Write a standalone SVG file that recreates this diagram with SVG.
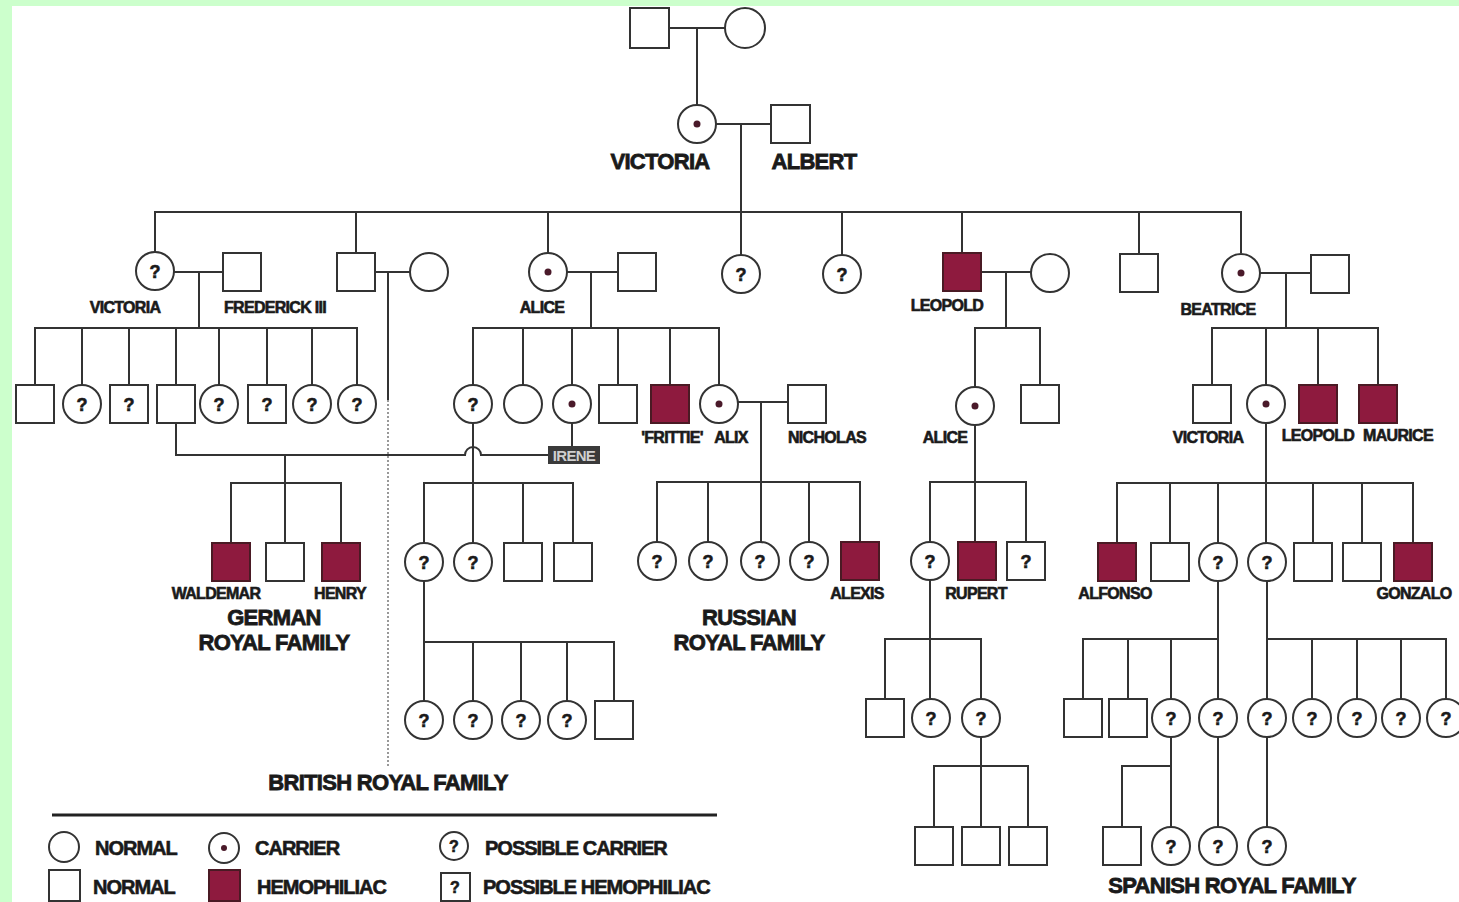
<svg xmlns="http://www.w3.org/2000/svg" xmlns:xlink="http://www.w3.org/1999/xlink" width="1459" height="902" viewBox="0 0 1459 902">
<style>
.ln{stroke:#333;stroke-width:2;fill:none}
.dt{stroke:#555;stroke-width:1.2;fill:none;stroke-dasharray:2 2}
.bx{fill:#fff;stroke:#333;stroke-width:2}
.hm{fill:#8e1a3e;stroke:#4a1a24;stroke-width:2}
.dot{fill:#4a1a2a}
.q{font-family:"Liberation Sans",Arial,sans-serif;font-weight:bold;font-size:18px;text-anchor:middle;fill:#1a1a1a;stroke:#1a1a1a;stroke-width:0.6}
.sl{font-family:"Liberation Sans",Arial,sans-serif;font-weight:bold;font-size:16px;letter-spacing:-0.7px;text-anchor:middle;fill:#1a1a1a;stroke:#1a1a1a;stroke-width:0.6}
.bl{font-family:"Liberation Sans",Arial,sans-serif;font-weight:bold;font-size:22px;letter-spacing:-0.7px;text-anchor:middle;fill:#1a1a1a;stroke:#1a1a1a;stroke-width:0.8}
.lg{font-family:"Liberation Sans",Arial,sans-serif;font-weight:bold;font-size:20px;letter-spacing:-1px;fill:#1a1a1a;stroke:#1a1a1a;stroke-width:0.6}
</style>
<defs>
<g id="sq"><rect x="-19" y="-19" width="38" height="38" class="bx"/></g>
<g id="hs"><rect x="-19" y="-19" width="38" height="38" class="hm"/></g>
<g id="ci"><circle r="19" class="bx"/></g>
<g id="cc"><circle r="19" class="bx"/><circle r="3.5" class="dot"/></g>
<g id="qc"><circle r="19" class="bx"/><text y="6.5" class="q">?</text></g>
<g id="qs"><rect x="-19" y="-19" width="38" height="38" class="bx"/><text y="6.5" class="q">?</text></g>
</defs>
<rect x="0" y="0" width="1459" height="902" fill="#fff"/>
<rect x="0" y="0" width="1459" height="6" fill="#ccffcc"/>
<rect x="0" y="0" width="12" height="902" fill="#ccffcc"/>

<g id="connectors">
<path class="ln" d="M669 28H725M697 28V105"/>
<path class="ln" d="M716 124H771M741 124V255"/>
<path class="ln" d="M155 252V212H1241V253M356 212V253M548 212V253M842 212V255M962 212V253M1139 212V254"/>
<path class="ln" d="M173 272H223M199 272V328M35 385V328H357V385M82 328V385M129 328V385M176 328V385M219 328V385M267 328V385M312 328V385"/>
<path class="ln" d="M375 272H410M388 272V400"/>
<path class="dt" d="M388 400V766"/>
<path class="ln" d="M567 272H618M591 272V328M473 385V328H719V385M523 328V385M572 328V385M618 328V385M670 328V385"/>
<path class="ln" d="M176 423V455H465A8 8 0 0 1 481 455H548M572 423V446"/>
<path class="ln" d="M285 455V483M231 543V483H341V543M285 483V543"/>
<path class="ln" d="M473 423V543M424 543V483H573V543M523 483V543"/>
<path class="ln" d="M424 581V642H614V700M424 642V700M473 642V700M521 642V700M567 642V700"/>
<path class="ln" d="M738 402H788M761 402V542M657 542V482H860V542M708 482V542M809 482V542"/>
<path class="ln" d="M982 272H1031M1006 272V328M975 387V328H1040V385"/>
<path class="ln" d="M975 425V542M930 542V482H1026V542"/>
<path class="ln" d="M930 580V699M885 699V639H981V699"/>
<path class="ln" d="M981 737V827M934 827V766H1028V827"/>
<path class="ln" d="M1260 273H1311M1286 273V328M1212 385V328H1378V385M1266 328V385M1318 328V385"/>
<path class="ln" d="M1266 423V543M1117 543V483H1413V543M1170 483V543M1218 483V543M1313 483V543M1362 483V543"/>
<path class="ln" d="M1218 581V699M1083 699V639H1218M1128 639V699M1171 639V699"/>
<path class="ln" d="M1267 581V699M1267 639H1446V699M1312 639V699M1357 639V699M1401 639V699"/>
<path class="ln" d="M1171 737V827M1171 766H1122V827M1218 737V827M1267 737V827"/>
</g>

<g id="g0-father"><rect x="630" y="8" width="39" height="40" class="bx"/></g>
<g id="g0-mother"><circle cx="745" cy="28" r="20" class="bx"/></g>

<g id="victoria"><use href="#cc" x="697" y="124"/><text x="660" y="169" class="bl">VICTORIA</text></g>
<g id="albert"><rect x="771" y="105" width="39" height="38" class="bx"/><text x="814" y="169" class="bl">ALBERT</text></g>

<g id="victoria-pr"><use href="#qc" x="155" y="271"/><text x="125" y="313" class="sl">VICTORIA</text></g>
<g id="frederick"><use href="#sq" x="242" y="272"/><text x="275" y="313" class="sl">FREDERICK III</text></g>
<g id="edward"><use href="#sq" x="356" y="272"/></g>
<g id="edward-wife"><use href="#ci" x="429" y="272"/></g>
<g id="alice"><use href="#cc" x="548" y="272"/><text x="542" y="313" class="sl">ALICE</text></g>
<g id="alice-husband"><use href="#sq" x="637" y="272"/></g>
<g id="g2-q1"><use href="#qc" x="741" y="274"/></g>
<g id="g2-q2"><use href="#qc" x="842" y="274"/></g>
<g id="leopold"><use href="#hs" x="962" y="272"/><text x="947" y="311" class="sl">LEOPOLD</text></g>
<g id="leopold-wife"><use href="#ci" x="1050" y="273"/></g>
<g id="g2-son"><use href="#sq" x="1139" y="273"/></g>
<g id="beatrice"><use href="#cc" x="1241" y="273"/><text x="1218" y="315" class="sl">BEATRICE</text></g>
<g id="beatrice-husband"><use href="#sq" x="1330" y="274"/></g>

<g id="vc1"><use href="#sq" x="35" y="404"/></g>
<g id="vc2"><use href="#qc" x="82" y="404"/></g>
<g id="vc3"><use href="#qs" x="129" y="404"/></g>
<g id="vc4"><use href="#sq" x="176" y="404"/></g>
<g id="vc5"><use href="#qc" x="219" y="404"/></g>
<g id="vc6"><use href="#qs" x="267" y="404"/></g>
<g id="vc7"><use href="#qc" x="312" y="404"/></g>
<g id="vc8"><use href="#qc" x="357" y="404"/></g>

<g id="ac1"><use href="#qc" x="473" y="404"/></g>
<g id="ac2"><use href="#ci" x="523" y="404"/></g>
<g id="irene"><use href="#cc" x="572" y="404"/><rect x="548" y="446" width="52" height="18" fill="#3a3a3a"/><text x="574" y="461" class="sl" style="fill:#cfcfcf;stroke:none;font-size:15px">IRENE</text></g>
<g id="ac4"><use href="#sq" x="618" y="404"/></g>
<g id="frittie"><use href="#hs" x="670" y="404"/><text x="672" y="443" class="sl">'FRITTIE'</text></g>
<g id="alix"><use href="#cc" x="719" y="404"/><text x="731" y="443" class="sl">ALIX</text></g>
<g id="nicholas"><use href="#sq" x="807" y="404"/><text x="827" y="443" class="sl">NICHOLAS</text></g>

<g id="alice-l"><use href="#cc" x="975" y="406"/><text x="945" y="443" class="sl">ALICE</text></g>
<g id="lc2"><use href="#sq" x="1040" y="404"/></g>

<g id="victoria-b"><use href="#sq" x="1212" y="404"/><text x="1208" y="443" class="sl">VICTORIA</text></g>
<g id="bc2"><use href="#cc" x="1266" y="404"/></g>
<g id="leopold-b"><use href="#hs" x="1318" y="404"/><text x="1318" y="441" class="sl">LEOPOLD</text></g>
<g id="maurice"><use href="#hs" x="1378" y="404"/><text x="1398" y="441" class="sl">MAURICE</text></g>

<g id="waldemar"><use href="#hs" x="231" y="562"/><text x="216" y="599" class="sl">WALDEMAR</text></g>
<g id="gc2"><use href="#sq" x="285" y="562"/></g>
<g id="henry"><use href="#hs" x="341" y="562"/><text x="340" y="599" class="sl">HENRY</text></g>
<g id="german-label"><text x="274" y="625" class="bl">GERMAN</text><text x="274" y="650" class="bl">ROYAL FAMILY</text></g>

<g id="bt1"><use href="#qc" x="424" y="562"/></g>
<g id="bt2"><use href="#qc" x="473" y="562"/></g>
<g id="bt3"><use href="#sq" x="523" y="562"/></g>
<g id="bt4"><use href="#sq" x="573" y="562"/></g>
<g id="bu1"><use href="#qc" x="424" y="720"/></g>
<g id="bu2"><use href="#qc" x="473" y="720"/></g>
<g id="bu3"><use href="#qc" x="521" y="720"/></g>
<g id="bu4"><use href="#qc" x="567" y="720"/></g>
<g id="bu5"><use href="#sq" x="614" y="720"/></g>
<g id="british-label"><text x="388" y="790" class="bl">BRITISH ROYAL FAMILY</text></g>

<g id="ru1"><use href="#qc" x="657" y="561"/></g>
<g id="ru2"><use href="#qc" x="708" y="561"/></g>
<g id="ru3"><use href="#qc" x="760" y="561"/></g>
<g id="ru4"><use href="#qc" x="809" y="561"/></g>
<g id="alexis"><use href="#hs" x="860" y="561"/><text x="857" y="599" class="sl">ALEXIS</text></g>
<g id="russian-label"><text x="749" y="625" class="bl">RUSSIAN</text><text x="749" y="650" class="bl">ROYAL FAMILY</text></g>

<g id="la1"><use href="#qc" x="930" y="561"/></g>
<g id="rupert"><use href="#hs" x="977" y="561"/><text x="976" y="599" class="sl">RUPERT</text></g>
<g id="la3"><use href="#qs" x="1026" y="561"/></g>
<g id="lb1"><use href="#sq" x="885" y="718"/></g>
<g id="lb2"><use href="#qc" x="931" y="718"/></g>
<g id="lb3"><use href="#qc" x="981" y="718"/></g>
<g id="lc1b"><use href="#sq" x="934" y="846"/></g>
<g id="lc2b"><use href="#sq" x="981" y="846"/></g>
<g id="lc3b"><use href="#sq" x="1028" y="846"/></g>

<g id="alfonso"><use href="#hs" x="1117" y="562"/><text x="1115" y="599" class="sl">ALFONSO</text></g>
<g id="sp2"><use href="#sq" x="1170" y="562"/></g>
<g id="sp3"><use href="#qc" x="1218" y="562"/></g>
<g id="sp4"><use href="#qc" x="1267" y="562"/></g>
<g id="sp5"><use href="#sq" x="1313" y="562"/></g>
<g id="sp6"><use href="#sq" x="1362" y="562"/></g>
<g id="gonzalo"><use href="#hs" x="1413" y="562"/><text x="1414" y="599" class="sl">GONZALO</text></g>
<g id="sq1"><use href="#sq" x="1083" y="718"/></g>
<g id="sq2"><use href="#sq" x="1128" y="718"/></g>
<g id="sq3"><use href="#qc" x="1171" y="718"/></g>
<g id="sq4"><use href="#qc" x="1218" y="718"/></g>
<g id="sq5"><use href="#qc" x="1267" y="718"/></g>
<g id="sq6"><use href="#qc" x="1312" y="718"/></g>
<g id="sq7"><use href="#qc" x="1357" y="718"/></g>
<g id="sq8"><use href="#qc" x="1401" y="718"/></g>
<g id="sq9"><use href="#qc" x="1446" y="718"/></g>
<g id="sr1"><use href="#sq" x="1122" y="846"/></g>
<g id="sr2"><use href="#qc" x="1171" y="846"/></g>
<g id="sr3"><use href="#qc" x="1218" y="846"/></g>
<g id="sr4"><use href="#qc" x="1267" y="846"/></g>
<g id="spanish-label"><text x="1232" y="893" class="bl">SPANISH ROYAL FAMILY</text></g>

<g id="legend">
<line x1="52" y1="815" x2="717" y2="815" stroke="#222" stroke-width="3"/>
<circle cx="64" cy="847" r="15" class="bx"/>
<text x="95" y="855" class="lg">NORMAL</text>
<circle cx="224" cy="848" r="15" class="bx"/><circle cx="224" cy="848" r="3" class="dot"/>
<text x="255" y="855" class="lg">CARRIER</text>
<circle cx="454" cy="846" r="14" class="bx"/><text x="454" y="852" class="q" style="font-size:16px">?</text>
<text x="485" y="855" class="lg">POSSIBLE CARRIER</text>
<rect x="49" y="870" width="31" height="31" class="bx"/>
<text x="93" y="894" class="lg">NORMAL</text>
<rect x="209" y="870" width="31" height="31" class="hm"/>
<text x="257" y="894" class="lg">HEMOPHILIAC</text>
<rect x="441" y="873" width="29" height="28" class="bx"/><text x="455" y="893" class="q" style="font-size:16px">?</text>
<text x="483" y="894" class="lg">POSSIBLE HEMOPHILIAC</text>
</g>
</svg>
